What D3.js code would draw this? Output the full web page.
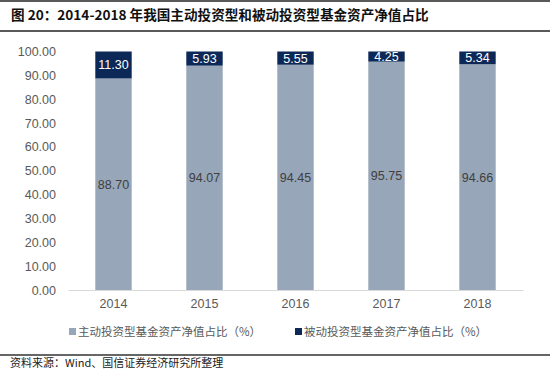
<!DOCTYPE html>
<html>
<head>
<meta charset="utf-8">
<script src="https://cdn.jsdelivr.net/npm/d3@7"></script>
<style>
  body { margin: 0; background: #fff; }
  svg { display: block; font-family: "Liberation Sans", Arial, "Noto Sans CJK SC", sans-serif; }
</style>
</head>
<body>
<div id="chart"></div>
<script>
// data
var years = ["2014", "2015", "2016", "2017", "2018"];
var activeShare = [88.70, 94.07, 94.45, 95.75, 94.66];
var passiveShare = [11.30, 5.93, 5.55, 4.25, 5.34];
var yTicks = [0, 10, 20, 30, 40, 50, 60, 70, 80, 90, 100];
var seriesNames = ["主动投资型基金资产净值占比（%）", "被动投资型基金资产净值占比（%）"];

var w = 550, h = 371;
var colors = ["#97a6b8", "#0c2857"];

var svg = d3.select("#chart").append("svg")
    .attr("width", w)
    .attr("height", h);

// title and rules
svg.append("line").attr("x1", 0).attr("x2", w).attr("y1", 1).attr("y2", 1)
    .attr("stroke", "#222").attr("stroke-width", 1.5);
svg.append("text")
    .attr("x", 11).attr("y", 20)
    .attr("font-size", 13.6).attr("font-weight", "bold").attr("fill", "#111")
    .style("font-family", "'Noto Sans CJK SC', sans-serif")
    .text("图 20：2014-2018 年我国主动投资型和被动投资型基金资产净值占比");
svg.append("line").attr("x1", 0).attr("x2", w).attr("y1", 31).attr("y2", 31)
    .attr("stroke", "#222").attr("stroke-width", 1.5);

// scales
var x = d3.scaleBand()
    .domain(years)
    .range([68, 523])
    .paddingInner(0.6)
    .paddingOuter(0.3);

var y = d3.scaleLinear()
    .domain([0, 100])
    .range([290, 51.5]);

// y axis labels
var yAxis = svg.append("g")
    .attr("transform", "translate(56,0)")
    .call(d3.axisLeft(y).tickValues(yTicks).tickFormat(d3.format(".2f")).tickSize(0).tickPadding(0));
yAxis.select(".domain").remove();
yAxis.selectAll("text")
    .attr("font-size", 12.5).attr("fill", "#595959")
    .style("font-family", "'Liberation Sans', Arial, sans-serif");

// x axis
var xAxis = svg.append("g")
    .attr("transform", "translate(0,290)")
    .call(d3.axisBottom(x).tickSize(0).tickPadding(9));
xAxis.select(".domain").attr("stroke", "#d9d9d9");
xAxis.selectAll("text")
    .attr("font-size", 12.5).attr("fill", "#595959")
    .style("font-family", "'Liberation Sans', Arial, sans-serif");

// stacked bars
var rows = years.map(function (yr, i) {
    return { year: yr, active: activeShare[i], passive: passiveShare[i] };
});
var stack = d3.stack().keys(["active", "passive"]);
var layers = stack(rows);

var groups = svg.selectAll("g.layer")
    .data(layers)
    .enter()
    .append("g")
    .attr("class", "layer")
    .attr("fill", function (d, i) { return colors[i]; });

groups.selectAll("rect")
    .data(function (d) { return d; })
    .enter()
    .append("rect")
    .attr("x", function (d) { return x(d.data.year); })
    .attr("y", function (d) { return y(d[1]); })
    .attr("width", x.bandwidth())
    .attr("height", function (d) { return y(d[0]) - y(d[1]); });

// value labels
groups.selectAll("text")
    .data(function (d) { return d; })
    .enter()
    .append("text")
    .attr("x", function (d) { return x(d.data.year) + x.bandwidth() / 2; })
    .attr("y", function (d) { return (y(d[0]) + y(d[1])) / 2 + 4.5; })
    .attr("text-anchor", "middle")
    .attr("font-size", 12.5)
    .attr("fill", function (d) { return d3.select(this.parentNode).datum().key === "active" ? "#404040" : "#fff"; })
    .text(function (d) { return (d[1] - d[0]).toFixed(2); });

// legend
var legendX = [69, 295];
var legend = svg.selectAll("g.legend")
    .data(seriesNames)
    .enter()
    .append("g")
    .attr("class", "legend")
    .attr("transform", function (d, i) { return "translate(" + legendX[i] + ",332)"; });
legend.append("rect")
    .attr("x", 0).attr("y", -4)
    .attr("width", 7).attr("height", 7)
    .attr("fill", function (d, i) { return colors[i]; });
legend.append("text")
    .attr("x", 9).attr("y", 4)
    .attr("font-size", 11.5).attr("fill", "#595959")
    .style("font-family", "'Noto Sans CJK SC', sans-serif")
    .text(function (d) { return d; });

// source
svg.append("line").attr("x1", 0).attr("x2", w).attr("y1", 355).attr("y2", 355)
    .attr("stroke", "#333").attr("stroke-width", 1.5);
svg.append("text")
    .attr("x", 10).attr("y", 367)
    .attr("font-size", 11).attr("fill", "#222")
    .style("font-family", "'Noto Sans CJK SC', sans-serif")
    .text("资料来源：Wind、国信证券经济研究所整理");
</script>
</body>
</html>
